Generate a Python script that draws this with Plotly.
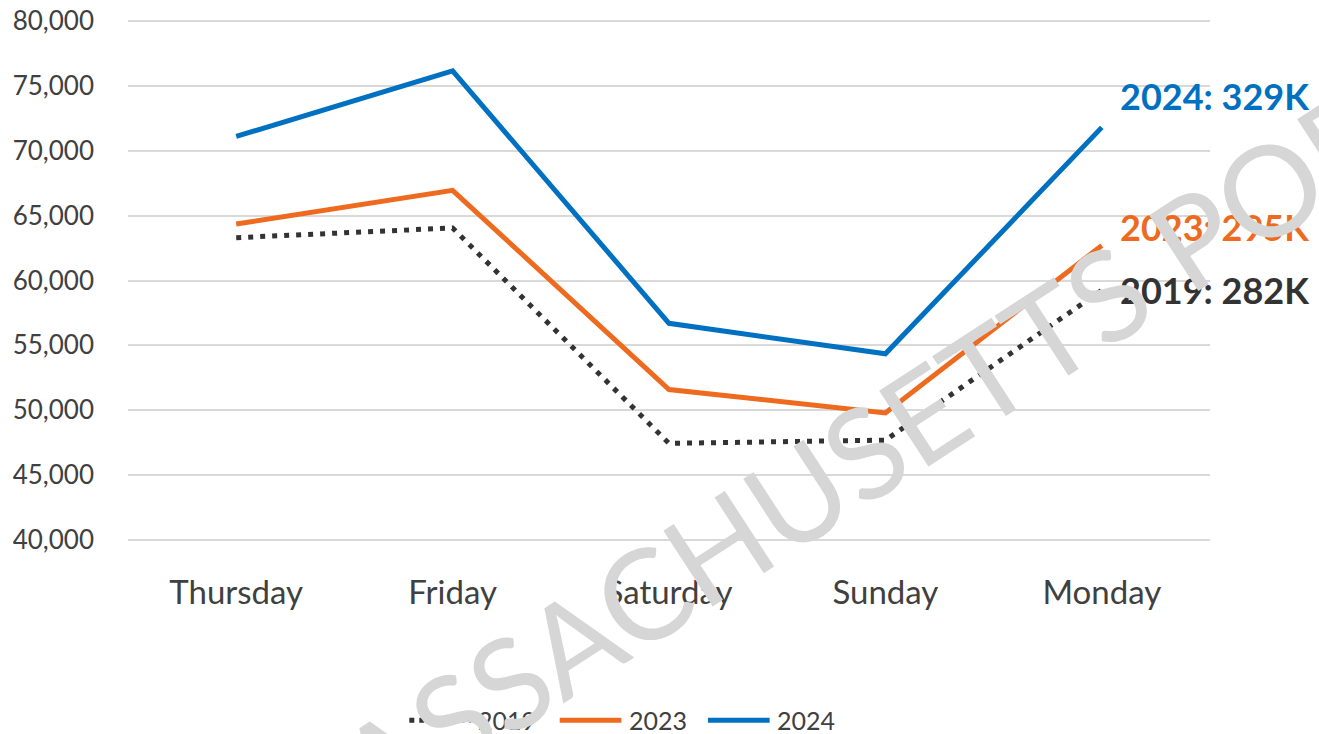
import plotly.graph_objects as go

days = ["Thursday", "Friday", "Saturday", "Sunday", "Monday"]

y2019 = [63300, 64050, 47450, 47700, 59250]
y2023 = [64350, 66950, 51600, 49800, 62700]
y2024 = [71100, 76150, 56700, 54350, 71800]

series_names = ["2019", "2023", "2024"]
series_colors = ["#333333", "#EE6A1F", "#0070C0"]
series_dash = ["5px,7px", "solid", "solid"]
end_labels = ["2019: 282K", "2023: 295K", "2024: 329K"]

fig = go.Figure()

for name, vals, col, dash in zip(series_names, [y2019, y2023, y2024], series_colors, series_dash):
    fig.add_trace(go.Scatter(
        x=days, y=vals, name=name, mode="lines", showlegend=False,
        line=dict(color=col, width=5, dash=dash),
    ))

# labels at the right end of each line
label_y = [0.482, 0.602, 0.853]
for txt, col, yy in zip(end_labels, series_colors, label_y):
    fig.add_annotation(
        text=txt, xref="paper", yref="paper", x=0.915, y=yy,
        xanchor="left", yanchor="middle", showarrow=False,
        font=dict(family="Lato", size=36, color=col, weight="bold"),
    )

# legend drawn by hand so the line samples are long like the original
leg_x = [0.260, 0.399, 0.536]   # paper x of each sample start
leg_y = -0.341
for name, col, dash, lx in zip(series_names, series_colors, series_dash, leg_x):
    fig.add_shape(
        type="line", xref="paper", yref="paper",
        x0=lx, x1=lx + 0.057, y0=leg_y, y1=leg_y,
        line=dict(color=col, width=5, dash="dot" if dash != "solid" else "solid"),
    )
    fig.add_annotation(
        text=name, xref="paper", yref="paper", x=lx + 0.062, y=leg_y,
        xanchor="left", yanchor="middle", showarrow=False,
        font=dict(family="Lato", size=25, color="#404040"),
    )

# watermark
fig.add_annotation(
    text="MASSACHUSETTS PORT AUTHORITY", xref="paper", yref="paper",
    x=0.949, y=0.537, xanchor="center", yanchor="middle",
    showarrow=False, textangle=-33,
    font=dict(family="Lato", size=126, color="#d6d6d6"),
)

fig.update_layout(
    template="plotly_white",
    width=1319, height=734,
    margin=dict(l=128, r=109, t=19, b=192, autoexpand=False),
    plot_bgcolor="white", paper_bgcolor="white",
    font=dict(family="Lato", color="#404040"),
    showlegend=False,
)
fig.update_xaxes(
    range=[-0.5, 4.5], showgrid=False, zeroline=False, showline=False,
    tickfont=dict(size=33, color="#404040"), ticks="", ticklabelstandoff=28,
)
# range padded a little so the 40,000 and 80,000 grid lines are drawn
fig.update_yaxes(
    range=[39850, 80150], dtick=5000, tick0=0, tickformat=",",
    showgrid=True, gridcolor="#d9d9d9", gridwidth=1.5,
    zeroline=False, showline=False,
    tickfont=dict(size=26, color="#404040"), ticks="", ticklabelstandoff=33,
)

# drop the default 8px body margin so the figure fills the window
fig.write_html("out.html", config={"displayModeBar": False},
               post_script="document.body.style.margin='0';")
